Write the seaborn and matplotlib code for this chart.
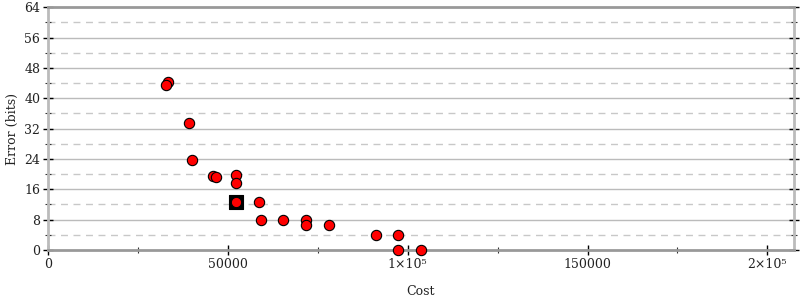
import matplotlib
matplotlib.use("Agg")
import matplotlib.pyplot as plt
import seaborn as sns
import pandas as pd
from matplotlib.ticker import MultipleLocator, FixedLocator

cost = [33400, 32800, 39300, 40000, 46000, 46700, 52400, 52300, 52300, 58600,
        59200, 65400, 71800, 71800, 78100, 91300, 97400, 97400, 103800]
error = [44.4, 43.5, 33.4, 23.6, 19.4, 19.2, 19.8, 17.7, 12.75, 12.75,
         7.8, 7.8, 7.8, 6.6, 6.7, 3.9, 3.9, 0.0, 0.0]
best_cost = [52300]
best_error = [12.75]

x_ticks = [0, 50000, 100000, 150000, 200000]
x_labels = ["0", "50000", "1×10⁵", "150000", "2×10⁵"]
y_ticks = [0, 8, 16, 24, 32, 40, 48, 56, 64]

sns.set_theme(style="white")
plt.rcParams["font.family"] = ["DejaVu Serif"]

fig = plt.figure(figsize=(8, 3), dpi=100)
ax = fig.add_axes([0.06, 0.1667, 0.932, 0.809])

df = pd.DataFrame({"Cost": cost, "Error": error})
dfb = pd.DataFrame({"Cost": best_cost, "Error": best_error})

sns.scatterplot(data=dfb, x="Cost", y="Error", marker="s", s=100, color="black",
                edgecolor="black", linewidth=0.8, ax=ax, zorder=3)
sns.scatterplot(data=df, x="Cost", y="Error", marker="o", s=55, color="#ff0000",
                edgecolor="black", linewidth=0.8, ax=ax, zorder=4, clip_on=False)

ax.set_xlim(0, 207300)
ax.set_ylim(0, 64)

ax.xaxis.set_major_locator(FixedLocator(x_ticks))
ax.set_xticklabels(x_labels)
ax.xaxis.set_minor_locator(MultipleLocator(25000))
ax.yaxis.set_major_locator(FixedLocator(y_ticks))
ax.yaxis.set_minor_locator(MultipleLocator(4))

ax.grid(False)
for yv in range(8, 64, 8):
    ax.axhline(yv, color="#bbbbbb", lw=1.0, zorder=0)
for yv in range(4, 64, 8):
    ax.axhline(yv, color="#c8c8c8", lw=1.0, ls=(0, (5, 4)), zorder=0)

spine_colors = {"left": "#bbbbbb", "right": "#bbbbbb", "top": "#999999", "bottom": "#999999"}
for side, c in spine_colors.items():
    ax.spines[side].set_visible(True)
    ax.spines[side].set_color(c)
    ax.spines[side].set_linewidth(2.0)
    ax.spines[side].set_zorder(1)

ax.tick_params(axis="both", which="major", direction="inout", length=7, width=1,
               color="black", labelsize=9, labelcolor="#222222", pad=2)
ax.tick_params(axis="both", which="minor", direction="inout", length=4, width=0.8,
               color="#333333")
ax.tick_params(axis="y", which="both", left=True, right=True)
ax.tick_params(axis="x", which="both", bottom=True, top=False)

ax.set_xlabel("Cost", fontsize=9, labelpad=10, color="#222222")
ax.set_ylabel("Error (bits)", fontsize=9, labelpad=4, color="#222222")

fig.savefig("out.png", dpi=100)
